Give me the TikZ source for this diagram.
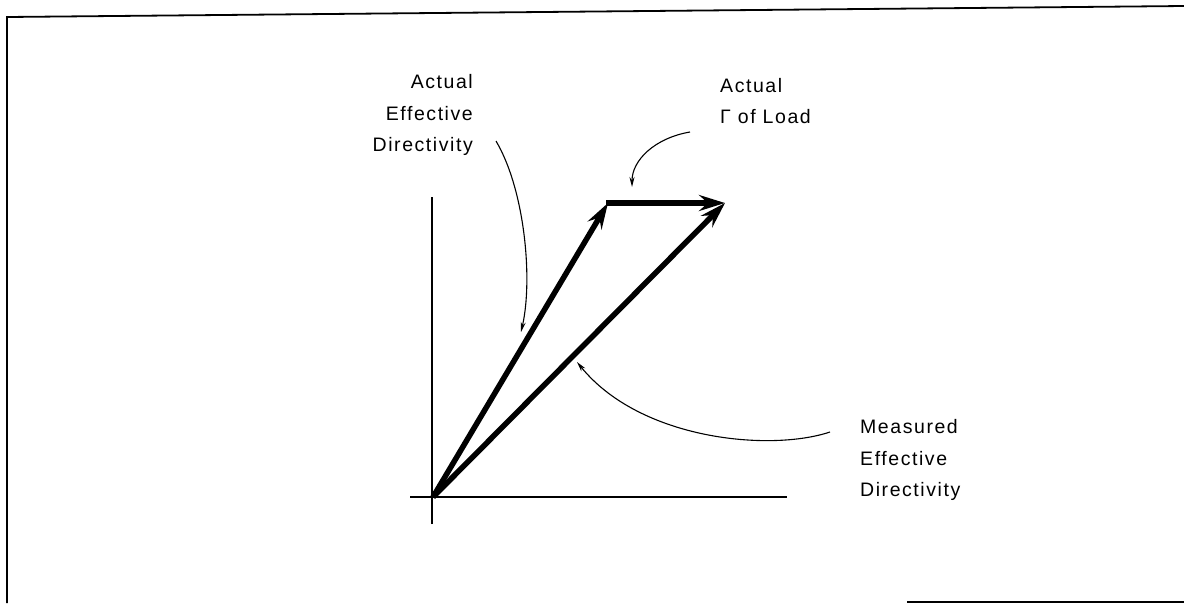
\documentclass[tikz,border=0pt]{standalone}
\usepackage{fontspec}
\setmainfont[LetterSpace=8]{Liberation Sans}
\usetikzlibrary{arrows.meta}
\begin{document}
\begin{tikzpicture}[x=1pt,y=-1pt,
  frame/.style={line width=1.8pt},
  axis/.style={line width=2.8pt},
  vec/.style={line width=5.5pt,-{Stealth[length=26pt,width=16pt,inset=9pt]}},
  pointer/.style={line width=1.1pt,-{Stealth[length=10pt,width=5pt]}},
  lbl/.style={inner sep=0pt,font=\fontsize{19.5}{31.5}\selectfont}]
\useasboundingbox (0,0) rectangle (1184,603);
% frame
\coordinate (f1) at (7,603);
\coordinate (f2) at (7,17);
\coordinate (f3) at (1184,6);
\coordinate (f4) at (907,602);
\coordinate (f5) at (1184,602);
\draw[frame] (f1) -- (f2) -- (f3);
\draw[frame] (f4) -- (f5);
% axes
\coordinate (O) at (433,497);
\coordinate (yt) at (432,197);
\coordinate (yb) at (432,524);
\coordinate (xl) at (410,497);
\coordinate (xr) at (787,497);
\draw[axis] (yb) -- (yt);
\draw[axis] (xl) -- (xr);
% vectors
\coordinate (A) at (608,203);
\coordinate (B) at (725,203);
\draw[vec] (O) -- (A);
\draw[vec,shorten <=-2pt] (A) -- (B);
\draw[vec] (O) -- (B);
% labels
\node[lbl,align=right,anchor=east] (L1) at (473,115) {Actual\\Effective\\Directivity};
\node[lbl,align=left,anchor=west] (L2) at (720,101) {Actual\\Γ of Load};
\node[lbl,align=left,anchor=west] (L3) at (860,460) {Measured\\Effective\\Directivity};
% pointers
\coordinate (p1s) at (496,141);
\coordinate (p1e) at (521,332);
\draw[pointer] (p1s) .. controls (525,190) and (533,280) .. (p1e);
\coordinate (p2s) at (690,132);
\coordinate (p2e) at (632,187);
\draw[pointer] (p2s) .. controls (655,138) and (632,160) .. (p2e);
\coordinate (p3s) at (830,432);
\coordinate (p3e) at (577,362);
\draw[pointer] (p3s) .. controls (770,452) and (640,440) .. (p3e);
\end{tikzpicture}
\end{document}
